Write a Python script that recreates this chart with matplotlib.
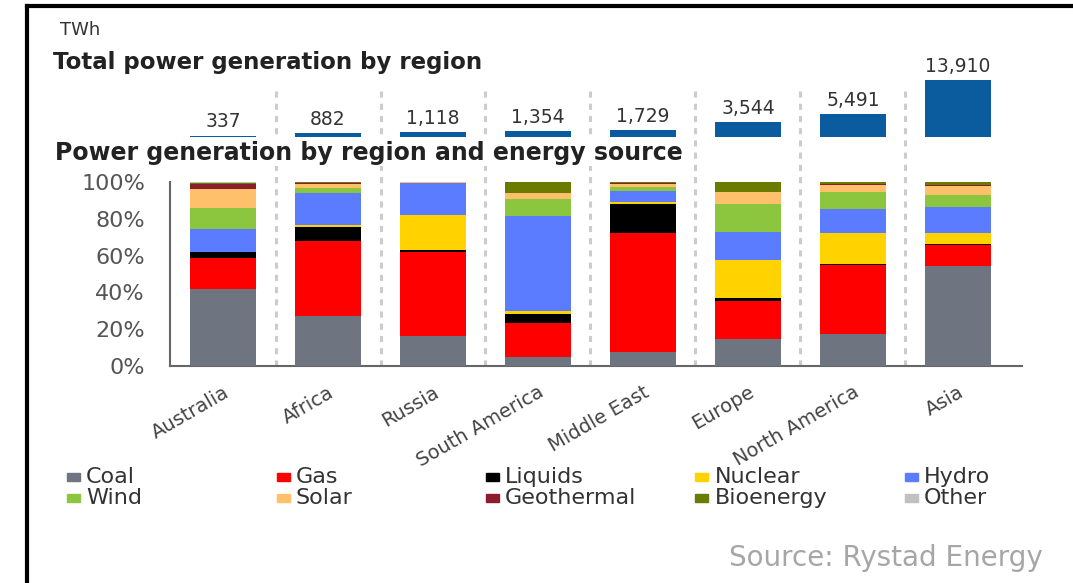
import matplotlib.pyplot as plt
from matplotlib.lines import Line2D
from matplotlib.patches import Rectangle

plt.rcParams['font.family'] = ['DejaVu Sans']

regions = ['Australia', 'Africa', 'Russia', 'South America', 'Middle East',
           'Europe', 'North America', 'Asia']
totals = [337, 882, 1118, 1354, 1729, 3544, 5491, 13910]

# share of generation by source, %
coal = [42.1, 27.1, 16.1, 4.9, 7.8, 14.8, 17.2, 54.2]
gas = [16.7, 41.1, 45.9, 18.6, 64.5, 20.5, 37.6, 11.6]
liquids = [3.0, 7.6, 0.9, 4.5, 15.8, 1.6, 0.9, 0.7]
nuclear = [0.0, 1.1, 19.0, 1.8, 1.1, 20.8, 16.5, 5.7]
hydro = [12.9, 17.1, 17.7, 51.9, 5.9, 15.2, 13.2, 14.4]
wind = [11.2, 2.7, 0.1, 9.3, 2.0, 15.2, 9.0, 6.2]
solar = [10.5, 2.0, 0.1, 3.0, 2.0, 6.3, 4.0, 5.2]
geothermal = [2.7, 0.6, 0.0, 0.0, 0.4, 0.2, 0.4, 0.2]
bioenergy = [0.5, 0.5, 0.2, 6.0, 0.5, 5.4, 1.2, 1.8]
other = [0.4, 0.2, 0.0, 0.0, 0.0, 0.0, 0.0, 0.0]

sources = ['Coal', 'Gas', 'Liquids', 'Nuclear', 'Hydro',
           'Wind', 'Solar', 'Geothermal', 'Bioenergy', 'Other']
shares = [coal, gas, liquids, nuclear, hydro, wind, solar, geothermal, bioenergy, other]
colors = ['#6e7480', '#ff0000', '#000000', '#ffd200', '#5b7cff',
          '#8cc63f', '#ffc06b', '#8b1e2d', '#6b7b00', '#c0c0c0']

W, H = 1073, 583
fig = plt.figure(figsize=(W / 100, H / 100), dpi=100)

x = list(range(len(regions)))
xlim = (-0.505, 7.61)
bw = 0.624

# lower chart: stacked shares
ax = fig.add_axes([170 / W, 1 - 366 / H, 852 / W, 184 / H])
bottom = [0.0] * len(regions)
for name, vals, c in zip(sources, shares, colors):
    ax.bar(x, vals, bw, bottom=bottom, color=c, label=name, zorder=3)
    bottom = [b + v for b, v in zip(bottom, vals)]
ax.set_xlim(*xlim)
ax.set_ylim(0, 100)
ax.set_yticks([0, 20, 40, 60, 80, 100])
ax.set_yticklabels(['%d%%' % t for t in [0, 20, 40, 60, 80, 100]])
ax.tick_params(axis='y', length=0, pad=18, labelsize=16, labelcolor='#555555')
ax.set_xticks(x)
ax.set_xticklabels(regions, rotation=30, ha='right', rotation_mode='anchor',
                   fontsize=14, color='#444444')
ax.tick_params(axis='x', length=0, pad=12)
for s in ['top', 'right']:
    ax.spines[s].set_visible(False)
for s in ['left', 'bottom']:
    ax.spines[s].set_color('#666666')
    ax.spines[s].set_linewidth(1.5)

# dashed separators running up into the top chart
for i in range(len(regions) - 1):
    ax.plot([i + 0.5, i + 0.5], [0, 151], ls=(0, (2, 2)), lw=2.2,
            color='#cccccc', clip_on=False, zorder=1)

# upper chart: total TWh
ax2 = fig.add_axes([170 / W, 1 - 137 / H, 852 / W, 57 / H])
ax2.bar(x, totals, bw, color='#0b5c9e', zorder=3)
for xi, v in zip(x, totals):
    ax2.annotate(f'{v:,}', (xi, v), xytext=(0, 3), textcoords='offset points',
                 ha='center', va='bottom', fontsize=13.5, color='#333333')
ax2.set_xlim(*xlim)
ax2.set_ylim(0, 13910)
ax2.axis('off')
ax2.patch.set_visible(False)

# texts
fig.text(60 / W, 1 - 30 / H, 'TWh', fontsize=13, color='#333333', va='center')
fig.text(53 / W, 1 - 63 / H, 'Total power generation by region', fontsize=16.5,
         fontweight='bold', color='#222222', va='center')
fig.text(55 / W, 1 - 153 / H, 'Power generation by region and energy source',
         fontsize=17, fontweight='bold', color='#222222', va='center',
         bbox=dict(facecolor='white', edgecolor='none', pad=1), zorder=5)
fig.text(1043 / W, 1 - 558 / H, 'Source: Rystad Energy', fontsize=20,
         color='#a6a6a6', ha='right', va='center')

# legend as a 5-column grid
for i, (name, c) in enumerate(zip(sources, colors)):
    col, row = i % 5, i // 5
    x0 = 67 + col * 209.5
    y0 = 477 + row * 21
    fig.add_artist(Rectangle((x0 / W, 1 - (y0 + 4) / H), 13 / W, 8 / H,
                             transform=fig.transFigure, color=c))
    fig.text((x0 + 19) / W, 1 - y0 / H, name, fontsize=16, color='#333333',
             va='center')

# black frame on the left and top edges
fig.add_artist(Line2D([27 / W, 27 / W], [0, 1 - 6 / H], color='black', lw=3))
fig.add_artist(Line2D([27 / W, 1], [1 - 6 / H, 1 - 6 / H], color='black', lw=3))

fig.savefig('out.png', dpi=100)
